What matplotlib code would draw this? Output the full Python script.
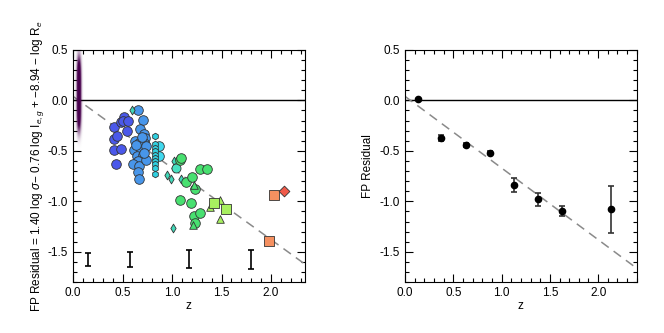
import numpy as np
import matplotlib.pyplot as plt
from matplotlib.ticker import MultipleLocator

plt.rcParams['font.family'] = ['Liberation Sans', 'DejaVu Sans']
plt.rcParams['mathtext.fontset'] = 'custom'
plt.rcParams['mathtext.rm'] = 'Liberation Sans'
plt.rcParams['mathtext.it'] = 'Liberation Sans:italic'

# ---- left panel data: individual galaxies, grouped by sample ----
blue_z = [0.41, 0.41, 0.44, 0.41, 0.48, 0.43, 0.48, 0.51, 0.50, 0.55, 0.54]
blue_y = [-0.26, -0.38, -0.35, -0.49, -0.48, -0.63, -0.21, -0.16, -0.20, -0.20, -0.30]

lblue_z = [0.66, 0.71, 0.68, 0.72, 0.73, 0.63, 0.67, 0.72, 0.62, 0.69, 0.74,
           0.65, 0.71, 0.66, 0.61, 0.67, 0.66, 0.67, 0.74, 0.72, 0.64, 0.70]
lblue_y = [-0.10, -0.19, -0.28, -0.33, -0.37, -0.40, -0.42, -0.42, -0.49, -0.49, -0.45,
           -0.55, -0.54, -0.60, -0.63, -0.65, -0.71, -0.78, -0.59, -0.52, -0.44, -0.36]

cyan_small_z = [0.83, 0.83, 0.83, 0.83, 0.83, 0.83, 0.83, 0.83, 0.83, 0.83]
cyan_small_y = [-0.35, -0.43, -0.47, -0.50, -0.54, -0.57, -0.60, -0.63, -0.67, -0.73]
cyan_big_z = [0.87, 0.87]
cyan_big_y = [-0.45, -0.55]

aqua_d_z = [0.60, 0.95, 0.99, 1.02, 1.02, 1.01, 1.09]
aqua_d_y = [-0.10, -0.74, -0.78, -0.60, -0.67, -1.26, -0.78]
aqua_c_z = [1.04]
aqua_c_y = [-0.67]

green_z = [1.08, 1.09, 1.14, 1.20, 1.23, 1.28, 1.35, 1.08, 1.19, 1.22, 1.28, 1.23]
green_y = [-0.59, -0.57, -0.81, -0.76, -0.88, -0.68, -0.68, -0.99, -1.02, -1.15, -1.12, -1.21]
green_t_z = [1.21, 1.22]
green_t_y = [-1.23, -0.84]

yg_tri_z = [1.38, 1.48, 1.48]
yg_tri_y = [-1.06, -0.99, -1.18]
yg_sq_z = [1.42, 1.54]
yg_sq_y = [-1.02, -1.08]

orange_z = [2.03, 1.98]
orange_y = [-0.94, -1.39]
red_z = [2.13]
red_y = [-0.90]

# typical error bars
err_z = [0.15, 0.58, 1.17, 1.80]
err_y = [-1.575, -1.58, -1.57, -1.575]
err_dy = [0.065, 0.075, 0.09, 0.095]

# local sample (density cloud)
local_z = 0.062
local_y = 0.06
local_sz = 0.015
local_sy = 0.36

# ---- right panel: binned medians ----
bin_z = [0.13, 0.37, 0.63, 0.88, 1.13, 1.38, 1.63, 2.13]
bin_y = [0.01, -0.37, -0.44, -0.52, -0.84, -0.98, -1.10, -1.08]
bin_err = [0.0, 0.03, 0.02, 0.015, 0.07, 0.065, 0.05, 0.23]

# evolution fit
fit_a = 0.04
fit_b = -0.71

fig = plt.figure(figsize=(6.64, 3.33), dpi=100)
ax1 = fig.add_axes([0.110, 0.153, 0.349, 0.697])
ax2 = fig.add_axes([0.610, 0.153, 0.349, 0.697])


def style(ax, xmax):
    ax.set_xlim(0, xmax)
    ax.set_ylim(-1.8, 0.5)
    ax.xaxis.set_major_locator(MultipleLocator(0.5))
    ax.xaxis.set_minor_locator(MultipleLocator(0.1))
    ax.yaxis.set_major_locator(MultipleLocator(0.5))
    ax.yaxis.set_minor_locator(MultipleLocator(0.1))
    ax.tick_params(which='both', direction='in', top=True, right=True, labelsize=8.5)
    ax.tick_params(which='major', length=6, width=0.8)
    ax.tick_params(which='minor', length=3, width=0.8)
    ax.xaxis.set_major_formatter(plt.FuncFormatter(lambda v, p: '%.1f' % v))
    ax.yaxis.set_major_formatter(plt.FuncFormatter(lambda v, p: '%.1f' % v))
    ax.axhline(0, color='black', lw=1)
    xx = np.array([0, xmax])
    ax.plot(xx, fit_a + fit_b * xx, ls=(0, (6, 4)), color='#8a8a8a', lw=1.1)
    ax.set_xlabel('z', fontsize=8.5, labelpad=1)


style(ax1, 2.34)
style(ax2, 2.4)

# local density cloud
gy = np.linspace(-0.8, 0.8, 400)
gx = np.linspace(local_z - 0.06, local_z + 0.06, 80)
GX, GY = np.meshgrid(gx, gy)
dens = np.exp(-0.5 * ((GX - local_z) / local_sz) ** 2 - ((GY - local_y) / local_sy) ** 4)
rgba = np.zeros(dens.shape + (4,))
rgba[..., 0] = 0.28
rgba[..., 1] = 0.0
rgba[..., 2] = 0.30
rgba[..., 3] = np.clip(dens * 1.8, 0, 1)
ax1.imshow(rgba, extent=[gx[0], gx[-1], gy[0], gy[-1]], origin='lower',
           aspect='auto', zorder=2, interpolation='bilinear')

ec = '#333333'
kw = dict(edgecolors=ec, linewidths=0.6, zorder=3)
ax1.scatter(blue_z, blue_y, s=48, c='#4a58ea', marker='o', **kw)
ax1.scatter(lblue_z, lblue_y, s=48, c='#4896ea', marker='o', **kw)
ax1.scatter(cyan_big_z, cyan_big_y, s=48, c='#40d8ee', marker='o', **kw)
ax1.scatter(cyan_small_z, cyan_small_y, s=22, c='#30d0e0', marker='h', **kw)
ax1.scatter(aqua_d_z, aqua_d_y, s=20, c='#40d8b8', marker='d', **kw)
ax1.scatter(aqua_c_z, aqua_c_y, s=42, c='#48e0c0', marker='o', **kw)
ax1.scatter(green_z, green_y, s=48, c='#48e070', marker='o', **kw)
ax1.scatter(green_t_z, green_t_y, s=30, c='#48e070', marker='^', **kw)
ax1.scatter(yg_tri_z, yg_tri_y, s=30, c='#a8f060', marker='^', **kw)
ax1.scatter(yg_sq_z, yg_sq_y, s=42, c='#a8f060', marker='s', **kw)
ax1.scatter(orange_z, orange_y, s=42, c='#f59060', marker='s', **kw)
ax1.scatter(red_z, red_y, s=30, c='#f05a4a', marker='D', **kw)

ax1.errorbar(err_z, err_y, yerr=err_dy, fmt='none', ecolor='black',
             elinewidth=1.2, capsize=2.5, capthick=1.2, zorder=3)

ax1.set_ylabel(r'FP Residual = 1.40 log $\sigma$$-$ 0.76 log I$_{e,g}$ + $-$8.94 $-$ log R$_e$',
               fontsize=8.5, labelpad=1)

# right panel
ax2.errorbar(bin_z, bin_y, yerr=bin_err, fmt='o', color='black', ms=4.5,
             ecolor='#333333', elinewidth=1.2, capsize=2.5, capthick=1.2, zorder=3)
ax2.set_ylabel('FP Residual', fontsize=8.5, labelpad=4)

fig.savefig('out.png', dpi=100)
